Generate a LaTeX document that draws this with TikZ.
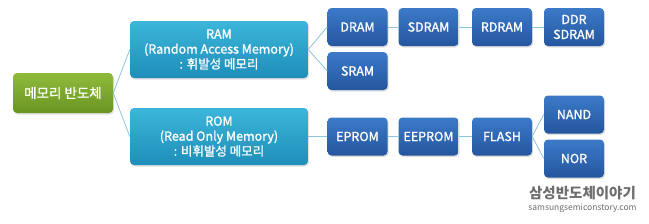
\documentclass[tikz,border=0pt]{standalone}
\usepackage{fontspec}
\setmainfont{Noto Sans CJK KR}
\newfontfamily\boxfont[FakeBold=1.3]{Noto Sans CJK KR}
\usetikzlibrary{shadows}
\definecolor{lnk}{HTML}{8CC4DE}
\definecolor{wm}{HTML}{6E6E6E}
\tikzset{
  box/.style={rounded corners=4pt, inner sep=0pt, align=center, text=white,
    font=\boxfont\fontsize{12.5}{15}\selectfont,
    drop shadow={shadow xshift=1pt, shadow yshift=-1.5pt, opacity=0.25}},
  greenbox/.style={box, top color={rgb,255:red,143;green,187;blue,60}, bottom color={rgb,255:red,104;green,148;blue,34},
    minimum width=100pt, minimum height=40pt, font=\boxfont\fontsize{13.5}{16}\selectfont},
  cyanbox/.style={box, top color={rgb,255:red,60;green,182;blue,218}, bottom color={rgb,255:red,30;green,142;blue,184},
    minimum width=178pt, minimum height=57pt},
  bluebox/.style={box, top color={rgb,255:red,60;green,122;blue,200}, bottom color={rgb,255:red,36;green,86;blue,158},
    minimum width=60pt, minimum height=38pt},
  link/.style={draw=lnk, line width=0.8pt}
}
\begin{document}
\begin{tikzpicture}[x=1pt,y=-1pt]
\useasboundingbox[fill=white] (0,0) rectangle (649,223);
\node[greenbox] (mem) at (63,93) {메모리 반도체};
\node[cyanbox] (ram) at (219,49.5) {RAM\\(Random Access Memory)\\: 휘발성 메모리};
\node[cyanbox] (rom) at (219,136.5) {ROM\\(Read Only Memory)\\: 비휘발성 메모리};
\node[bluebox] (dram) at (357.5,27) {DRAM};
\node[bluebox] (sdram) at (428.5,27) {SDRAM};
\node[bluebox] (rdram) at (502,27) {RDRAM};
\node[bluebox] (ddr) at (574,27) {DDR\\SDRAM};
\node[bluebox] (sram) at (357.5,71) {SRAM};
\node[bluebox] (eprom) at (357.5,136.5) {EPROM};
\node[bluebox] (eeprom) at (428.5,136.5) {EEPROM};
\node[bluebox] (flash) at (502,136.5) {FLASH};
\node[bluebox] (nand) at (574,114.5) {NAND};
\node[bluebox] (nor) at (574,158.5) {NOR};
\draw[link] (mem.east) -- (ram.west);
\draw[link] (mem.east) -- (rom.west);
\draw[link] (ram.east) -- (dram.west);
\draw[link] (ram.east) -- (sram.west);
\draw[link] (dram) -- (sdram);
\draw[link] (sdram) -- (rdram);
\draw[link] (rdram) -- (ddr);
\draw[link] (rom) -- (eprom);
\draw[link] (eprom) -- (eeprom);
\draw[link] (eeprom) -- (flash);
\draw[link] (flash.east) -- (nand.west);
\draw[link] (flash.east) -- (nor.west);
\node[text=wm, font=\fontsize{14.5}{16}\selectfont\bfseries, anchor=center, inner sep=0pt] (wmk) at (582.5,193.5) {삼성반도체이야기};
\node[text=wm, font=\fontsize{8.5}{10}\selectfont, anchor=center, inner sep=0pt] (wmu) at (582.5,208.5) {samsungsemiconstory.com};
\end{tikzpicture}
\end{document}
